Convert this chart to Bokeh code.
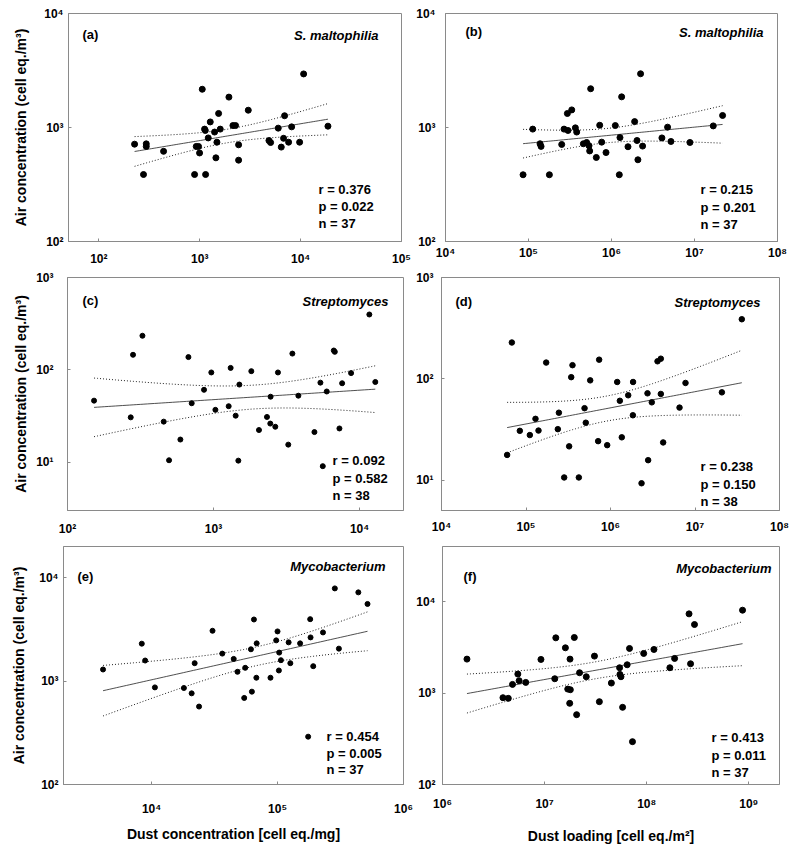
import numpy as np
from bokeh.plotting import figure
from bokeh.layouts import column, row
from bokeh.models import Label, FixedTicker, CustomJSTickFormatter, Range1d
from bokeh.embed import file_html
from bokeh.resources import INLINE

# ---------------- data ----------------
a_x = [226, 277, 295, 295, 438, 889, 923, 973, 996, 1059, 1117, 1135, 1143, 1214, 1271, 1403, 1446, 1480, 1538,
       1597, 1946, 2133, 2265, 2428, 2428, 3027, 4853, 5040, 5998, 6428, 6777, 6935, 7600, 8147, 9776, 10710, 18660]
a_y = [714, 387, 719, 682, 618, 387, 682, 682, 598, 2165, 968, 942, 387, 810, 1119, 912, 542, 743, 1328,
       968, 1847, 1040, 1040, 705, 517, 1418, 768, 738, 987, 673, 804, 1268, 743, 1013, 743, 2951, 1027]

b_x = [8.60e4, 1.125e5, 1.378e5, 1.417e5, 1.785e5, 2.513e5, 2.68e5, 2.94e5, 2.99e5, 3.32e5, 3.67e5, 3.81e5,
       4.58e5, 5.02e5, 5.36e5, 5.46e5, 5.61e5, 6.56e5, 7.21e5, 7.62e5, 8.59e5, 1.112e6, 1.242e6, 1.265e6,
       1.325e6, 1.58e6, 1.90e6, 2.03e6, 2.08e6, 2.24e6, 2.37e6, 4.05e6, 4.74e6, 5.2e6, 8.81e6, 1.683e7, 2.18e7]
b_y = [385, 968, 720, 683, 385, 710, 968, 1327, 942, 1427, 993, 912, 720, 739, 692, 623, 2188, 546, 1047,
       744, 603, 1040, 385, 816, 1857, 678, 1126, 769, 521, 2960, 687, 810, 1007, 754, 739, 1033, 1275]

c_x = [152, 271, 281, 326, 456, 496, 593, 673, 709, 861, 966, 1030, 1270, 1310, 1418, 1479, 1503, 1815, 2048,
       2323, 2448, 2460, 2649, 2762, 3250, 3468, 3811, 4910, 5396, 5600, 5961, 6662, 6770, 7283, 7599, 8752,
       11671, 12820]
c_y = [46.4, 30.6, 145.6, 234, 27.5, 10.5, 17.6, 137.5, 43.5, 60.8, 93.7, 36.9, 40.4, 105, 31.9, 10.4, 69.3,
       96.8, 22.3, 30.9, 26.2, 51.2, 24.2, 93.7, 15.5, 150, 52.5, 21.2, 72.7, 9.06, 58.3, 161.9, 156.7, 23.2,
       71.6, 92.2, 397.6, 73.9]

d_x = [5.98e4, 6.80e4, 8.45e4, 1.110e5, 1.295e5, 1.406e5, 1.733e5, 2.38e5, 2.45e5, 2.83e5, 3.24e5, 3.43e5,
       3.55e5, 4.22e5, 4.93e5, 5.10e5, 5.75e5, 7.14e5, 7.34e5, 9.14e5, 1.20e6, 1.29e6, 1.36e6, 1.62e6, 1.84e6,
       1.85e6, 2.33e6, 2.74e6, 2.79e6, 3.08e6, 3.60e6, 3.94e6, 3.94e6, 4.20e6, 6.56e6, 7.72e6, 2.08e7, 3.58e7]
d_y = [17.7, 228, 30.6, 27.8, 40.2, 30.8, 144.5, 31.8, 46.2, 10.6, 21.5, 103.7, 136.2, 10.6, 51.2, 36.8, 96.4,
       24.2, 154.3, 22.1, 92.9, 60.6, 26.4, 68.7, 43.6, 92.9, 9.29, 71.8, 15.7, 58.5, 148.8, 157.8, 70.8, 23.5,
       51.9, 90.9, 73.4, 387]

e_x = [4120, 8365, 8897, 10630, 18060, 20810, 21990, 23830, 30480, 36430, 44900, 48100, 54400, 55400, 61500,
       62600, 65000, 67900, 68300, 87900, 97600, 100000, 102500, 103100, 106400, 122500, 126400, 151100, 175000,
       181700, 182900, 192100, 229600, 285000, 307000, 438000, 518000]
e_y = [1294, 2299, 1580, 869, 857, 761, 1489, 567, 3064, 1843, 1638, 1229, 687, 1343, 2029, 790, 3938, 1077,
       2315, 1077, 2475, 3020, 1266, 1885, 1591, 2368, 1489, 2315, 290, 3967, 2644, 1393, 2953, 7870, 2059,
       7204, 5565]

f_x = [1.736e6, 3.91e6, 4.41e6, 4.85e6, 5.47e6, 5.63e6, 6.54e6, 9.21e6, 1.258e7, 1.288e7, 1.599e7, 1.686e7,
       1.775e7, 1.787e7, 1.762e7, 1.955e7, 2.06e7, 2.20e7, 2.56e7, 3.08e7, 3.44e7, 4.51e7, 5.43e7, 5.47e7,
       5.60e7, 5.81e7, 6.44e7, 6.79e7, 7.26e7, 9.35e7, 1.178e8, 1.687e8, 1.877e8, 2.60e8, 2.69e8, 2.94e8, 8.69e8]
f_y = [2349, 889, 875, 1243, 1612, 1363, 1307, 2330, 1433, 4014, 3123, 1105, 2349, 1087, 772, 4048, 580, 1667,
       1507, 2533, 804, 1285, 1890, 1598, 1507, 698, 2037, 3071, 294, 2709, 2995, 1890, 2389, 7336, 2089, 5611,
       8047]

panel_tags = ["(a)", "(b)", "(c)", "(d)", "(e)", "(f)"]
species = ["S. maltophilia", "S. maltophilia", "Streptomyces", "Streptomyces", "Mycobacterium", "Mycobacterium"]
stats_r = ["r = 0.376", "r = 0.215", "r = 0.092", "r = 0.238", "r = 0.454", "r = 0.413"]
stats_p = ["p = 0.022", "p = 0.201", "p = 0.582", "p = 0.150", "p = 0.005", "p = 0.011"]
stats_n = ["n = 37", "n = 37", "n = 38", "n = 38", "n = 37", "n = 37"]

y_title = "Air concentration (cell eq./m\u00b3)"
x_title_left = "Dust concentration [cell eq./mg]"
x_title_right = "Dust loading [cell eq./m\u00b2]"

FONT = "Liberation Sans"
GRAY = "#8a8a8a"

SUP = CustomJSTickFormatter(code="""
const sup = {"0":"\u2070","1":"\u00b9","2":"\u00b2","3":"\u00b3","4":"\u2074","5":"\u2075","6":"\u2076","7":"\u2077","8":"\u2078","9":"\u2079","-":"\u207b"};
const e = Math.round(Math.log10(tick));
return "10" + String(e).split("").map(c => sup[c]).join("");
""")


def fit_band(xs, ys):
    lx = np.log10(np.array(xs, dtype=float))
    ly = np.log10(np.array(ys, dtype=float))
    n = len(lx)
    b, a = np.polyfit(lx, ly, 1)
    res = ly - (a + b * lx)
    s = np.sqrt(np.sum(res ** 2) / (n - 2))
    mx = lx.mean()
    sxx = np.sum((lx - mx) ** 2)
    gx = np.linspace(lx.min(), lx.max(), 80)
    gy = a + b * gx
    se = s * np.sqrt(1.0 / n + (gx - mx) ** 2 / sxx)
    t = 2.03
    return 10 ** gx, 10 ** gy, 10 ** (gy + t * se), 10 ** (gy - t * se)


def txt(p, x, y, text, style="bold", size="13px", align="left"):
    p.add_layout(Label(x=x, y=y, x_units="screen", y_units="screen", text=text,
                       text_font=FONT, text_font_style=style, text_font_size=size,
                       text_color="black", text_align=align, text_baseline="middle"))


def panel(i, xs, ys, xr, yr, xt, yt, w, h, bl, br, bt, bb, dot, xstand, ystand,
          ylab=None, ylab_stand=10, xlab=None, xlab_stand=6,
          tag_pos=(14, 207), sp_pos=(310, 206), st_pos=(250, (52, 35, 18))):
    p = figure(width=w, height=h, x_axis_type="log", y_axis_type="log",
               x_range=Range1d(*xr), y_range=Range1d(*yr),
               output_backend="svg", toolbar_location=None,
               min_border_left=bl, min_border_right=br, min_border_top=bt, min_border_bottom=bb)
    p.grid.visible = False
    p.outline_line_color = GRAY
    p.outline_line_width = 1
    p.background_fill_color = "white"
    p.border_fill_color = "white"
    p.xaxis.ticker = FixedTicker(ticks=xt, minor_ticks=[])
    p.yaxis.ticker = FixedTicker(ticks=yt, minor_ticks=[])
    for ax in (p.xaxis, p.yaxis):
        ax.formatter = SUP
        ax.axis_line_color = GRAY
        ax.major_tick_line_color = GRAY
        ax.major_tick_in = 3
        ax.major_tick_out = 0
        ax.minor_tick_line_color = None
        ax.major_label_text_font = FONT
        ax.major_label_text_font_style = "bold"
        ax.major_label_text_font_size = "12px"
        ax.major_label_text_color = "black"
        ax.axis_label_text_font = FONT
        ax.axis_label_text_font_style = "bold"
        ax.axis_label_text_font_size = "14px"
        ax.axis_label_text_color = "black"
    p.xaxis.major_label_standoff = xstand
    p.yaxis.major_label_standoff = ystand
    if ylab:
        p.yaxis.axis_label = ylab
        p.yaxis.axis_label_standoff = ylab_stand
    if xlab:
        p.xaxis.axis_label = xlab
        p.xaxis.axis_label_standoff = xlab_stand

    gx, gy, up, lo = fit_band(xs, ys)
    p.line(gx, gy, line_color="#222222", line_width=0.8)
    p.line(gx, up, line_color="#222222", line_width=1, line_dash="1 2")
    p.line(gx, lo, line_color="#222222", line_width=1, line_dash="1 2")
    p.scatter(xs, ys, marker="circle", size=dot, fill_color="black", line_color="black")

    txt(p, tag_pos[0], tag_pos[1], panel_tags[i])
    txt(p, sp_pos[0], sp_pos[1], species[i], style="bold italic", align="right")
    for t_, yy in zip((stats_r[i], stats_p[i], stats_n[i]), st_pos[1]):
        txt(p, st_pos[0], yy, t_)
    return p


WL, WR = 413, 387
H1, H2, H3 = 268, 270, 312

pa = panel(0, a_x, a_y, (50, 1e5), (1e2, 1e4), [1e2, 1e3, 1e4, 1e5], [1e2, 1e3, 1e4],
           WL, H1, 68, 12, 11, 24, 6, 10, 5, ylab=y_title, ylab_stand=12,
           tag_pos=(14, 207), sp_pos=(310, 206), st_pos=(250, (52, 35, 18)))
pb = panel(1, b_x, b_y, (1e4, 1e8), (1e2, 1e4), [1e4, 1e5, 1e6, 1e7, 1e8], [1e2, 1e3, 1e4],
           WR, H1, 30, 23, 13, 21, 6, 4, 10,
           tag_pos=(20, 210), sp_pos=(318, 209), st_pos=(255, (52, 34, 17)))
pc = panel(2, c_x, c_y, (100, 2e4), (3, 1e3), [1e2, 1e3, 1e4], [1e1, 1e2, 1e3],
           WL, H2, 67, 10, 8, 25, 5, 11, 14, ylab=y_title, ylab_stand=4,
           tag_pos=(15, 210), sp_pos=(321, 209), st_pos=(265, (50, 32, 15)))
pd_ = panel(3, d_x, d_y, (1e4, 1e8), (5, 1e3), [1e4, 1e5, 1e6, 1e7, 1e8], [1e1, 1e2, 1e3],
            WR, H2, 28, 21, 9, 23, 5.5, 9, 8,
            tag_pos=(14, 209), sp_pos=(319, 208), st_pos=(259, (44, 26, 9)))
pe = panel(4, e_x, e_y, (2000, 1e6), (1e2, 2e4), [1e4, 1e5, 1e6], [1e2, 1e3, 1e4],
           WL, H3, 63, 10, 7, 66, 5, 17, 5, ylab=y_title, ylab_stand=9,
           xlab=x_title_left, xlab_stand=7,
           tag_pos=(14, 208), sp_pos=(322, 218), st_pos=(263, (48, 31, 15)))
pf = panel(5, f_x, f_y, (1e6, 2e9), (1e2, 4e4), [1e6, 1e7, 1e8, 1e9], [1e2, 1e3, 1e4],
           WR, H3, 26, 21, 8, 66, 6, 12, 7,
           xlab=x_title_right, xlab_stand=14,
           tag_pos=(21, 208), sp_pos=(329, 216), st_pos=(269, (47, 29, 12)))

layout = column(row(pa, pb), row(pc, pd_), row(pe, pf))
open("out.html", "w").write(file_html(layout, INLINE))
